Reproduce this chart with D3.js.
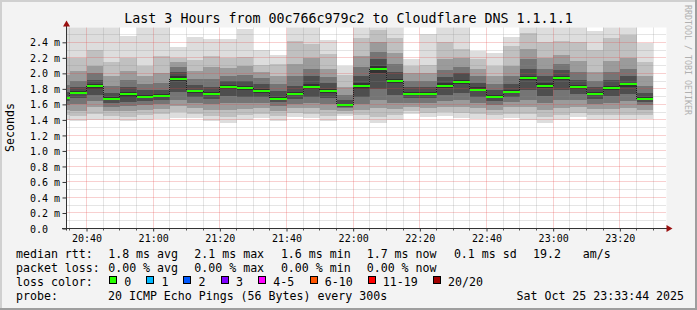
<!DOCTYPE html>
<html><head><meta charset="utf-8">
<script src="https://cdn.jsdelivr.net/npm/d3@7"></script>
<style>
html,body{margin:0;padding:0;background:#f3f3f3;}
svg{display:block;}
text{font-family:"DejaVu Sans Mono",monospace;fill:#000;}
</style>
</head><body>
<svg id="c" width="697" height="310"></svg>
<script>
// ---------- DATA ----------
const colEnd = ["20:35","20:40","20:45","20:50","20:55","21:00","21:05","21:10","21:15","21:20","21:25","21:30",
  "21:35","21:40","21:45","21:50","21:55","22:00","22:05","22:10","22:15","22:20","22:25","22:30",
  "22:35","22:40","22:45","22:50","22:55","23:00","23:05","23:10","23:15","23:20","23:25","23:30"];
// sorted ping RTTs (ms) per 5-minute step, selected ranks out of 20
const ping01 = [1.40,1.39,1.40,1.40,1.38,1.40,1.41,1.42,1.42,1.38,1.36,1.40,1.42,1.39,1.44,1.42,1.38,1.45,1.40,1.36,1.40,1.47,1.44,1.45,1.43,1.41,1.41,1.42,1.40,1.36,1.40,1.44,1.40,1.40,1.40,1.41];
const ping02 = [1.46,1.45,1.47,1.45,1.44,1.46,1.47,1.50,1.48,1.45,1.44,1.46,1.48,1.45,1.49,1.48,1.45,1.48,1.46,1.44,1.46,1.51,1.49,1.50,1.49,1.47,1.46,1.48,1.47,1.44,1.46,1.49,1.46,1.46,1.46,1.46];
const ping04 = [1.53,1.52,1.56,1.51,1.52,1.53,1.54,1.58,1.55,1.53,1.53,1.54,1.55,1.52,1.55,1.55,1.53,1.52,1.53,1.55,1.54,1.56,1.55,1.57,1.57,1.55,1.53,1.56,1.56,1.53,1.55,1.57,1.54,1.54,1.55,1.53];
const ping06 = [1.59,1.60,1.64,1.57,1.58,1.59,1.60,1.66,1.62,1.60,1.62,1.62,1.62,1.58,1.61,1.62,1.60,1.55,1.60,1.66,1.62,1.62,1.62,1.64,1.65,1.62,1.59,1.63,1.65,1.62,1.65,1.65,1.61,1.62,1.64,1.59];
const ping08 = [1.64,1.68,1.72,1.62,1.63,1.64,1.65,1.76,1.70,1.67,1.71,1.70,1.70,1.63,1.67,1.70,1.68,1.57,1.70,1.80,1.72,1.68,1.68,1.72,1.75,1.70,1.64,1.70,1.78,1.71,1.78,1.73,1.67,1.71,1.74,1.63];
const ping10 = [1.67,1.73,1.80,1.66,1.70,1.68,1.69,1.90,1.75,1.72,1.80,1.79,1.75,1.66,1.72,1.80,1.75,1.58,1.80,2.00,1.87,1.72,1.72,1.81,1.86,1.77,1.68,1.75,1.91,1.81,1.91,1.80,1.72,1.79,1.83,1.66];
const ping11 = [1.70,1.77,1.86,1.69,1.76,1.72,1.73,1.96,1.79,1.76,1.85,1.84,1.80,1.70,1.76,1.86,1.80,1.61,1.87,2.09,1.93,1.76,1.76,1.87,1.92,1.82,1.72,1.79,1.97,1.87,1.97,1.85,1.76,1.84,1.88,1.69];
const ping13 = [1.76,1.82,1.92,1.75,1.83,1.78,1.79,2.02,1.85,1.83,1.90,1.90,1.86,1.77,1.84,1.96,1.87,1.65,1.97,2.18,2.02,1.82,1.82,1.95,2.00,1.88,1.78,1.86,2.06,1.96,2.04,1.92,1.82,1.92,1.96,1.75];
const ping15 = [1.85,1.90,2.00,1.84,1.92,1.86,1.88,2.08,1.93,1.93,1.97,1.98,1.94,1.86,1.96,2.06,1.95,1.72,2.08,2.28,2.12,1.90,1.90,2.04,2.08,1.96,1.86,1.96,2.18,2.06,2.12,2.02,1.90,2.02,2.06,1.84];
const ping17 = [1.98,2.03,2.10,1.96,2.03,1.97,2.00,2.14,2.03,2.08,2.07,2.09,2.02,1.96,2.12,2.20,2.06,1.82,2.22,2.40,2.26,2.00,2.00,2.18,2.20,2.06,1.97,2.10,2.32,2.20,2.24,2.16,2.02,2.16,2.20,1.96];
const ping19 = [2.20,2.20,2.30,2.15,2.20,2.10,2.22,2.20,2.17,2.22,2.20,2.21,2.11,2.12,2.42,2.38,2.25,1.98,2.45,2.56,2.45,2.10,2.11,2.40,2.32,2.19,2.10,2.35,2.52,2.40,2.42,2.40,2.30,2.45,2.50,2.15];
const ping20 = [2.60,2.60,2.60,2.60,2.48,2.60,2.60,2.34,2.47,2.44,2.44,2.57,2.30,2.24,2.60,2.60,2.43,2.10,2.60,2.60,2.60,2.19,2.51,2.60,2.60,2.29,2.26,2.47,2.60,2.60,2.60,2.60,2.54,2.60,2.60,2.39];
const median = [1.686,1.750,1.836,1.669,1.737,1.700,1.707,1.927,1.776,1.737,1.827,1.815,1.776,1.669,1.737,1.827,1.776,1.595,1.836,2.055,1.905,1.737,1.737,1.836,1.888,1.785,1.700,1.763,1.940,1.840,1.940,1.827,1.737,1.810,1.858,1.673];
const lossCount = [0,0,0,0,0,0,0,0,0,0,0,0,0,0,0,0,0,0,0,0,0,0,0,0,0,0,0,0,0,0,0,0,0,0,0,0];

const yTicks = [0.0,0.2,0.4,0.6,0.8,1.0,1.2,1.4,1.6,1.8,2.0,2.2,2.4];
const yTickLabels = ["0.0","0.2 m","0.4 m","0.6 m","0.8 m","1.0 m","1.2 m","1.4 m","1.6 m","1.8 m","2.0 m","2.2 m","2.4 m"];
const xTickLabels = ["20:40","21:00","21:20","21:40","22:00","22:20","22:40","23:00","23:20"];

const lossLabels = ["0","1","2","3","4-5","6-10","11-19","20/20"];
const lossColors = ["#26ff00","#00b8ff","#0059ff","#7e00ff","#ff00ff","#ff5500","#ff0000","#a10000"];
const lossMax = [0,1,2,3,5,10,19,20];

const titleText = "Last 3 Hours from 00c766c979c2 to Cloudflare DNS 1.1.1.1";
const rttStats = ["1.8 ms avg","2.1 ms max","1.6 ms min","1.7 ms now","0.1 ms sd","19.2","am/s"];
const lossStats = ["0.00 % avg","0.00 % max","0.00 % min","0.00 % now"];
const probeText = "20 ICMP Echo Pings (56 Bytes) every 300s";
const dateText = "Sat Oct 25 23:33:44 2025";

// ---------- LAYOUT ----------
const W = 697, H = 310;
const PL = 66.5, PR = 666.5, PT = 27.5, PB = 228.5;
const yMax = 2.591;
const svg = d3.select("#c");
const T = s => { const [h,m] = s.split(":").map(Number); return new Date(2025,9,25,h,m,0); };
const x = d3.scaleTime().domain([new Date(2025,9,25,20,34,0), new Date(2025,9,25,23,34,0)]).range([PL, PR]);
const y = d3.scaleLinear().domain([0, yMax]).range([PB, PT]);
const px = v => Math.round(v - 0.5) + 0.5;

// background + shading frame
svg.append("rect").attr("width",W).attr("height",H).attr("fill","#f3f3f3");
svg.append("rect").attr("x",0).attr("y",0).attr("width",W).attr("height",2).attr("fill","#d0d0d0");
svg.append("rect").attr("x",0).attr("y",0).attr("width",2).attr("height",H).attr("fill","#d0d0d0");
svg.append("rect").attr("x",0).attr("y",H-2).attr("width",W).attr("height",2).attr("fill","#9e9e9e");
svg.append("rect").attr("x",W-2).attr("y",0).attr("width",2).attr("height",H).attr("fill","#9e9e9e");

// canvas
svg.append("rect").attr("x",PL).attr("y",PT).attr("width",PR-PL).attr("height",PB-PT).attr("fill","#ffffff");
svg.append("clipPath").attr("id","clip").append("rect").attr("x",PL).attr("y",PT).attr("width",PR-PL).attr("height",PB-PT);
const plot = svg.append("g").attr("clip-path","url(#clip)");

// smoke
const edges = [ping01,ping02,ping04,ping06,ping08,ping10,ping11,ping13,ping15,ping17,ping19,ping20];
const grays = [221,192,155,117,78,50,78,117,155,192,221];
const smoke = plot.append("g").attr("shape-rendering","crispEdges");
colEnd.forEach((s,i) => {
  const t1 = T(s), t0 = d3.timeMinute.offset(t1,-5);
  const x0 = Math.round(x(t0)), x1 = Math.round(x(t1));
  for (let k = 0; k < grays.length; k++) {
    const yTop = Math.round(y(edges[k+1][i])), yBot = Math.round(y(edges[k][i]));
    if (yBot - yTop <= 0) continue;
    const g = grays[k];
    smoke.append("rect").attr("x",x0).attr("y",yTop).attr("width",x1-x0).attr("height",yBot-yTop)
      .attr("fill",`rgb(${g},${g},${g})`);
  }
});

// grid
const grid = plot.append("g");
const minorY = d3.range(1,26).filter(k => k % 2 === 1).map(k => k/10);
minorY.forEach(v => grid.append("line").attr("x1",PL).attr("x2",PR).attr("y1",px(y(v))).attr("y2",px(y(v)))
  .attr("stroke","rgba(140,140,140,0.45)").attr("stroke-dasharray","1,1"));
const minorX = d3.timeMinute.every(5).range(x.domain()[0], x.domain()[1]).filter(d => d.getMinutes() % 20 !== 0);
minorX.forEach(d => grid.append("line").attr("y1",PT).attr("y2",PB).attr("x1",px(x(d))).attr("x2",px(x(d)))
  .attr("stroke","rgba(140,140,140,0.45)").attr("stroke-dasharray","1,1"));
yTicks.filter(v => v > 0).forEach(v => grid.append("line").attr("x1",PL).attr("x2",PR).attr("y1",px(y(v))).attr("y2",px(y(v)))
  .attr("stroke","rgba(230,70,70,0.5)").attr("stroke-dasharray","1,1"));
xTickLabels.forEach(s => grid.append("line").attr("y1",PT).attr("y2",PB).attr("x1",px(x(T(s)))).attr("x2",px(x(T(s))))
  .attr("stroke","rgba(230,70,70,0.5)").attr("stroke-dasharray","1,1"));

// median: dark step connectors + loss-coloured segments
const med = plot.append("g");
for (let i = 1; i < median.length; i++) {
  const xb = px(x(T(colEnd[i-1])));
  med.append("line").attr("x1",xb).attr("x2",xb)
    .attr("y1",Math.round(y(median[i-1]))).attr("y2",Math.round(y(median[i])))
    .attr("stroke","#202020").attr("stroke-dasharray","1,1");
}
const lossColor = c => lossColors[lossMax.findIndex(m => c <= m)];
colEnd.forEach((s,i) => {
  const t1 = T(s), t0 = d3.timeMinute.offset(t1,-5);
  const x0 = Math.round(x(t0)), x1 = Math.round(x(t1));
  med.append("rect").attr("x",x0).attr("y",Math.round(y(median[i]))-1).attr("width",x1-x0).attr("height",2)
    .attr("fill",lossColor(lossCount[i])).attr("shape-rendering","crispEdges");
});

// axes
const xAxis = d3.axisBottom(x).tickValues(xTickLabels.map(T)).tickFormat(d3.timeFormat("%H:%M")).tickSize(3).tickSizeOuter(0);
const gx = svg.append("g").attr("transform",`translate(0,${PB})`).call(xAxis);
gx.select(".domain").remove();
gx.selectAll(".tick line").attr("stroke","#333");
gx.selectAll("text").attr("y",13.5).attr("dy",null).style("font-size","10px").style("font-family","DejaVu Sans Mono");
const yAxis = d3.axisLeft(y).tickValues(yTicks).tickFormat((d,i) => yTickLabels[i]).tickSize(4).tickSizeOuter(0);
const gy = svg.append("g").attr("transform",`translate(${PL},0)`).call(yAxis);
gy.select(".domain").remove();
gy.selectAll(".tick line").attr("stroke","#333");
gy.selectAll("text").attr("x",30-PL).attr("dy","0.36em").attr("text-anchor","start")
  .style("font-size","10px").style("font-family","DejaVu Sans Mono");
// minor x ticks
minorX.forEach(d => svg.append("line").attr("x1",px(x(d))).attr("x2",px(x(d))).attr("y1",PB).attr("y2",PB+2).attr("stroke","#555"));
// axis lines and arrows
svg.append("line").attr("x1",62).attr("x2",667).attr("y1",PB).attr("y2",PB).attr("stroke","#333");
svg.append("line").attr("x1",PL).attr("x2",PL).attr("y1",PB+2).attr("y2",25).attr("stroke","#333");
svg.append("path").attr("d",`M${PL},20.5 L${PL-3.5},26.5 L${PL+3.5},26.5 Z`).attr("fill","#9a1010");
svg.append("path").attr("d",`M672.5,${PB} L666.5,${PB-3.5} L666.5,${PB+3.5} Z`).attr("fill","#9a1010");

// title and axis label
svg.append("text").attr("x",348.5).attr("y",23).attr("text-anchor","middle").style("font-size","13.3px").text(titleText);
svg.append("text").attr("transform","translate(13.5,127.5) rotate(-90)").attr("text-anchor","middle")
  .style("font-size","11.6px").text("Seconds");
svg.append("text").attr("transform","translate(685,5) rotate(90)").attr("text-anchor","start")
  .style("font-size","8.3px").style("fill","#b0b0b0").text("RRDTOOL / TOBI OETIKER");

// legend
const L = svg.append("g").style("font-size","11.6px");
const addT = (xx,yy,s) => L.append("text").attr("x",xx).attr("y",yy).attr("xml:space","preserve").text(s);
addT(16,258,"median rtt:");
[108.2,194.3,280.9,366.7,453.9,533,582.7].forEach((xx,i) => addT(xx,258,rttStats[i]));
addT(16,272,"packet loss:");
[108.2,194.3,280.9,366.7].forEach((xx,i) => addT(xx,272,lossStats[i]));
addT(16,286,"loss color:");
const boxX = [109.1,146.2,183.4,220.9,258,309.5,367.6,432.9];
lossLabels.forEach((lab,i) => {
  L.append("rect").attr("x",Math.round(boxX[i])+0.5).attr("y",276.5).attr("width",7).attr("height",7)
    .attr("fill",lossColors[i]).attr("stroke","#000").attr("stroke-width",1);
  addT(boxX[i]+15.2,286,lab);
});
addT(16,300,"probe:");
addT(108,300,probeText);
addT(516.5,300,dateText);
</script>
</body></html>
